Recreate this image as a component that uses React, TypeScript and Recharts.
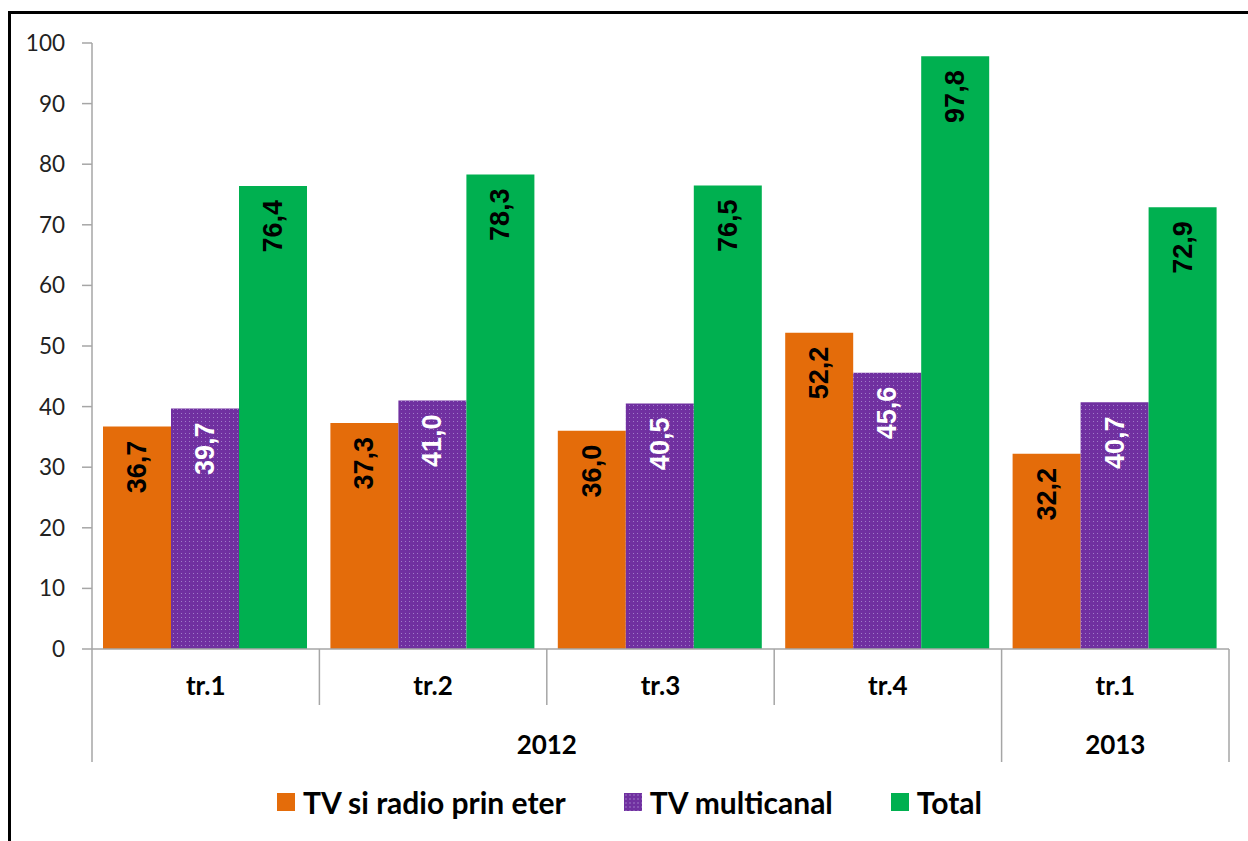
import React from 'react';
import { BarChart, Bar, XAxis, YAxis, Legend, LabelList } from 'recharts';

const categories = ['tr.1', 'tr.2', 'tr.3', 'tr.4', 'tr.1'];
const years = ['2012', '2012', '2012', '2012', '2013'];
const tvRadio = [36.7, 37.3, 36.0, 52.2, 32.2];
const tvMulti = [39.7, 41.0, 40.5, 45.6, 40.7];
const total = [76.4, 78.3, 76.5, 97.8, 72.9];
const yTicks = [0, 10, 20, 30, 40, 50, 60, 70, 80, 90, 100];

const seriesNames = ['TV si radio prin eter', 'TV multicanal', 'Total'];
const COLORS = ['#e46c0a', '#7030a0', '#00b050'];

const data = categories.map((c, i) => ({
  key: `${years[i]}-${c}-${i}`,
  cat: c,
  year: years[i],
  tvRadio: tvRadio[i],
  tvMulti: tvMulti[i],
  total: total[i],
}));

const W = 1248;
const H = 841;
const PLOT_LEFT = 92;
const PLOT_RIGHT = 1229;
const PLOT_TOP = 43;
const AXIS_Y = 649;
const LEGEND_H = 60;
const X_AXIS_H = H - AXIS_Y - LEGEND_H;
const CAL = 'Lato, "Open Sans", sans-serif';

const fmt = (v: number) => v.toFixed(1).replace('.', ',');

const makeLabel = (color: string) => (props: any) => {
  const { x, y, width, value } = props;
  const cx = x + width / 2;
  const ty = y + 14;
  return (
    <text
      x={cx}
      y={ty}
      transform={`rotate(-90 ${cx} ${ty})`}
      textAnchor="end"
      dominantBaseline="central"
      fill={color}
      fontFamily='"Liberation Sans", Arial, sans-serif'
      fontWeight="bold"
      fontSize={27}
    >
      {fmt(value)}
    </text>
  );
};

const CategoryTick = (props: any) => {
  const { payload } = props;
  const n = data.length;
  const i = payload.index;
  const bw = (PLOT_RIGHT - PLOT_LEFT) / n;
  const cx = payload.coordinate;
  const left = cx - bw / 2;
  const newYear = i === 0 || years[i] !== years[i - 1];
  let yearLabel: React.ReactNode = null;
  if (newYear) {
    let count = 0;
    for (let j = i; j < n && years[j] === years[i]; j++) count++;
    yearLabel = (
      <text x={left + (count * bw) / 2} y={AXIS_Y + 105} textAnchor="middle" fontFamily={CAL} fontWeight="bold" fontSize={26} fill="#000">
        {years[i]}
      </text>
    );
  }
  return (
    <g>
      <line x1={left} x2={left} y1={AXIS_Y} y2={newYear ? AXIS_Y + 113 : AXIS_Y + 56} stroke="#a6a6a6" strokeWidth={1.5} />
      {i === n - 1 && (
        <line x1={left + bw} x2={left + bw} y1={AXIS_Y} y2={AXIS_Y + 113} stroke="#a6a6a6" strokeWidth={1.5} />
      )}
      <text x={cx} y={AXIS_Y + 46} textAnchor="middle" fontFamily={CAL} fontWeight="bold" fontSize={26} fill="#000">
        {categories[i]}
      </text>
      {yearLabel}
    </g>
  );
};

const swatch = (i: number): React.CSSProperties =>
  i === 1
    ? {
        backgroundColor: COLORS[1],
        backgroundImage: 'radial-gradient(#a07cc8 0.6px, transparent 0.8px)',
        backgroundSize: '4px 4px',
      }
    : { background: COLORS[i] };

const LegendContent = () => (
  <div
    style={{
      height: LEGEND_H,
      display: 'flex',
      justifyContent: 'center',
      alignItems: 'flex-start',
      paddingLeft: 30,
      fontFamily: CAL,
      fontWeight: 'bold',
      fontSize: 30,
      color: '#000',
    }}
  >
    {seriesNames.map((name, i) => (
      <div key={name} style={{ display: 'flex', alignItems: 'center', marginRight: i < 2 ? 58 : 0, height: 42 }}>
        <div style={{ width: 18, height: 18, marginRight: 8, ...swatch(i) }} />
        <span style={{ lineHeight: '42px' }}>{name}</span>
      </div>
    ))}
  </div>
);

export default function App() {
  return (
    <div style={{ position: 'absolute', left: 0, top: 0, width: W, height: H, background: '#fff', overflow: 'hidden' }}>
      <div
        style={{
          position: 'absolute',
          left: 8,
          top: 11,
          width: W,
          height: H,
          borderLeft: '3px solid #000',
          borderTop: '3px solid #000',
        }}
      />
      <div style={{ position: 'absolute', left: 0, top: 0 }}>
        <BarChart
          width={W}
          height={H}
          data={data}
          margin={{ top: PLOT_TOP, right: W - PLOT_RIGHT, bottom: 0, left: 0 }}
          barCategoryGap={11}
          barGap={0}
        >
          <defs>
            <pattern id="dots" width="4" height="4" patternUnits="userSpaceOnUse">
              <rect width="4" height="4" fill="#7030a0" />
              <rect x="1" y="1" width="1" height="1" fill="#a07cc8" />
            </pattern>
          </defs>
          <XAxis
            dataKey="key"
            height={X_AXIS_H}
            axisLine={{ stroke: '#a6a6a6', strokeWidth: 1.5 }}
            tickLine={false}
            tick={<CategoryTick />}
            interval={0}
          />
          <YAxis
            width={PLOT_LEFT}
            domain={[0, 100]}
            ticks={yTicks}
            interval={0}
            axisLine={{ stroke: '#a6a6a6', strokeWidth: 1.5 }}
            tickLine={{ stroke: '#a6a6a6', strokeWidth: 1.5 }}
            tickSize={10}
            tickMargin={17}
            tick={{ fontFamily: CAL, fontSize: 22.5, fill: '#222' }}
          />
          <Legend verticalAlign="bottom" height={LEGEND_H} content={<LegendContent />} />
          <Bar dataKey="tvRadio" name={seriesNames[0]} fill={COLORS[0]} isAnimationActive={false}>
            <LabelList dataKey="tvRadio" content={makeLabel('#000')} />
          </Bar>
          <Bar dataKey="tvMulti" name={seriesNames[1]} fill="url(#dots)" isAnimationActive={false}>
            <LabelList dataKey="tvMulti" content={makeLabel('#fff')} />
          </Bar>
          <Bar dataKey="total" name={seriesNames[2]} fill={COLORS[2]} isAnimationActive={false}>
            <LabelList dataKey="total" content={makeLabel('#000')} />
          </Bar>
        </BarChart>
      </div>
    </div>
  );
}
